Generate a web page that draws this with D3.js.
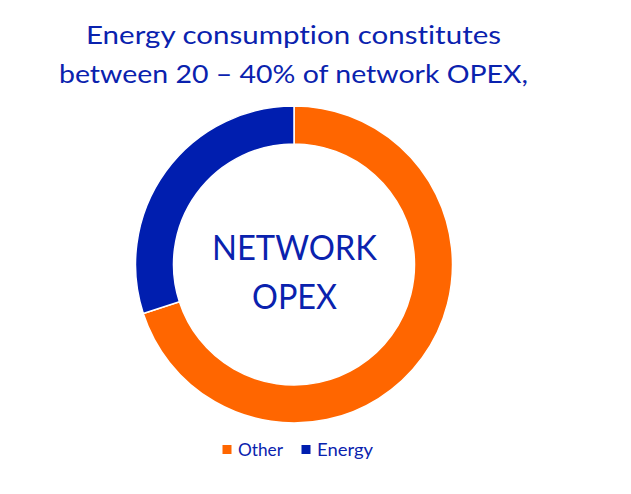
<!DOCTYPE html>
<html><head><meta charset="utf-8">
<script src="https://cdn.jsdelivr.net/npm/d3@7"></script>
<style>body{margin:0;background:#fff}svg{display:block}text{font-variant-ligatures:none;font-feature-settings:"liga" 0}</style>
</head><body>
<script>
const categories = ["Other", "Energy"];
const values = [70, 30];
const colors = ["#FF6600", "#001EAF"];
const titleLines = ["Energy consumption constitutes", "between 20 \u2013 40% of network OPEX,"];
const centerLines = ["NETWORK", "OPEX"];

const W = 631, H = 494;
const svg = d3.select("body").append("svg").attr("width", W).attr("height", H);
const font = "Lato, 'Open Sans', sans-serif";
const textColor = "#0A22AE";

// Title
const titleY = [44, 83];
const titleW = [415, 469];
titleLines.forEach((t, i) => {
  svg.append("text").attr("x", 293.5).attr("y", titleY[i])
    .attr("text-anchor", "middle").attr("font-family", font)
    .attr("font-size", 25).attr("fill", textColor)
    .attr("textLength", titleW[i]).attr("lengthAdjust", "spacingAndGlyphs")
    .text(t);
});

// Donut
const cx = 294, cy = 264.5, rO = 158.5, rI = 120.5;
const pie = d3.pie().sort(null).value(d => d);
const arc = d3.arc().innerRadius(rI).outerRadius(rO);
const g = svg.append("g").attr("transform", `translate(${cx},${cy})`);
g.selectAll("path").data(pie(values)).join("path")
  .attr("d", arc).attr("fill", (d, i) => colors[i])
  .attr("stroke", "#fff").attr("stroke-width", 1.5);

// Center text
const cY = [260, 308.5];
const cW = [165, 85];
centerLines.forEach((t, i) => {
  svg.append("text").attr("x", 294.5).attr("y", cY[i])
    .attr("text-anchor", "middle").attr("font-family", font)
    .attr("font-size", 35).attr("fill", textColor)
    .attr("textLength", cW[i]).attr("lengthAdjust", "spacingAndGlyphs")
    .text(t);
});

// Legend
const legX = [222.5, 301.5];
const legW = [45, 56];
categories.forEach((c, i) => {
  svg.append("rect").attr("x", legX[i]).attr("y", 445).attr("width", 9).attr("height", 9)
    .attr("fill", colors[i]);
  svg.append("text").attr("x", legX[i] + 15.5).attr("y", 456)
    .attr("font-family", font).attr("font-size", 18).attr("fill", textColor)
    .attr("textLength", legW[i]).attr("lengthAdjust", "spacingAndGlyphs")
    .text(c);
});
</script>
</body></html>
